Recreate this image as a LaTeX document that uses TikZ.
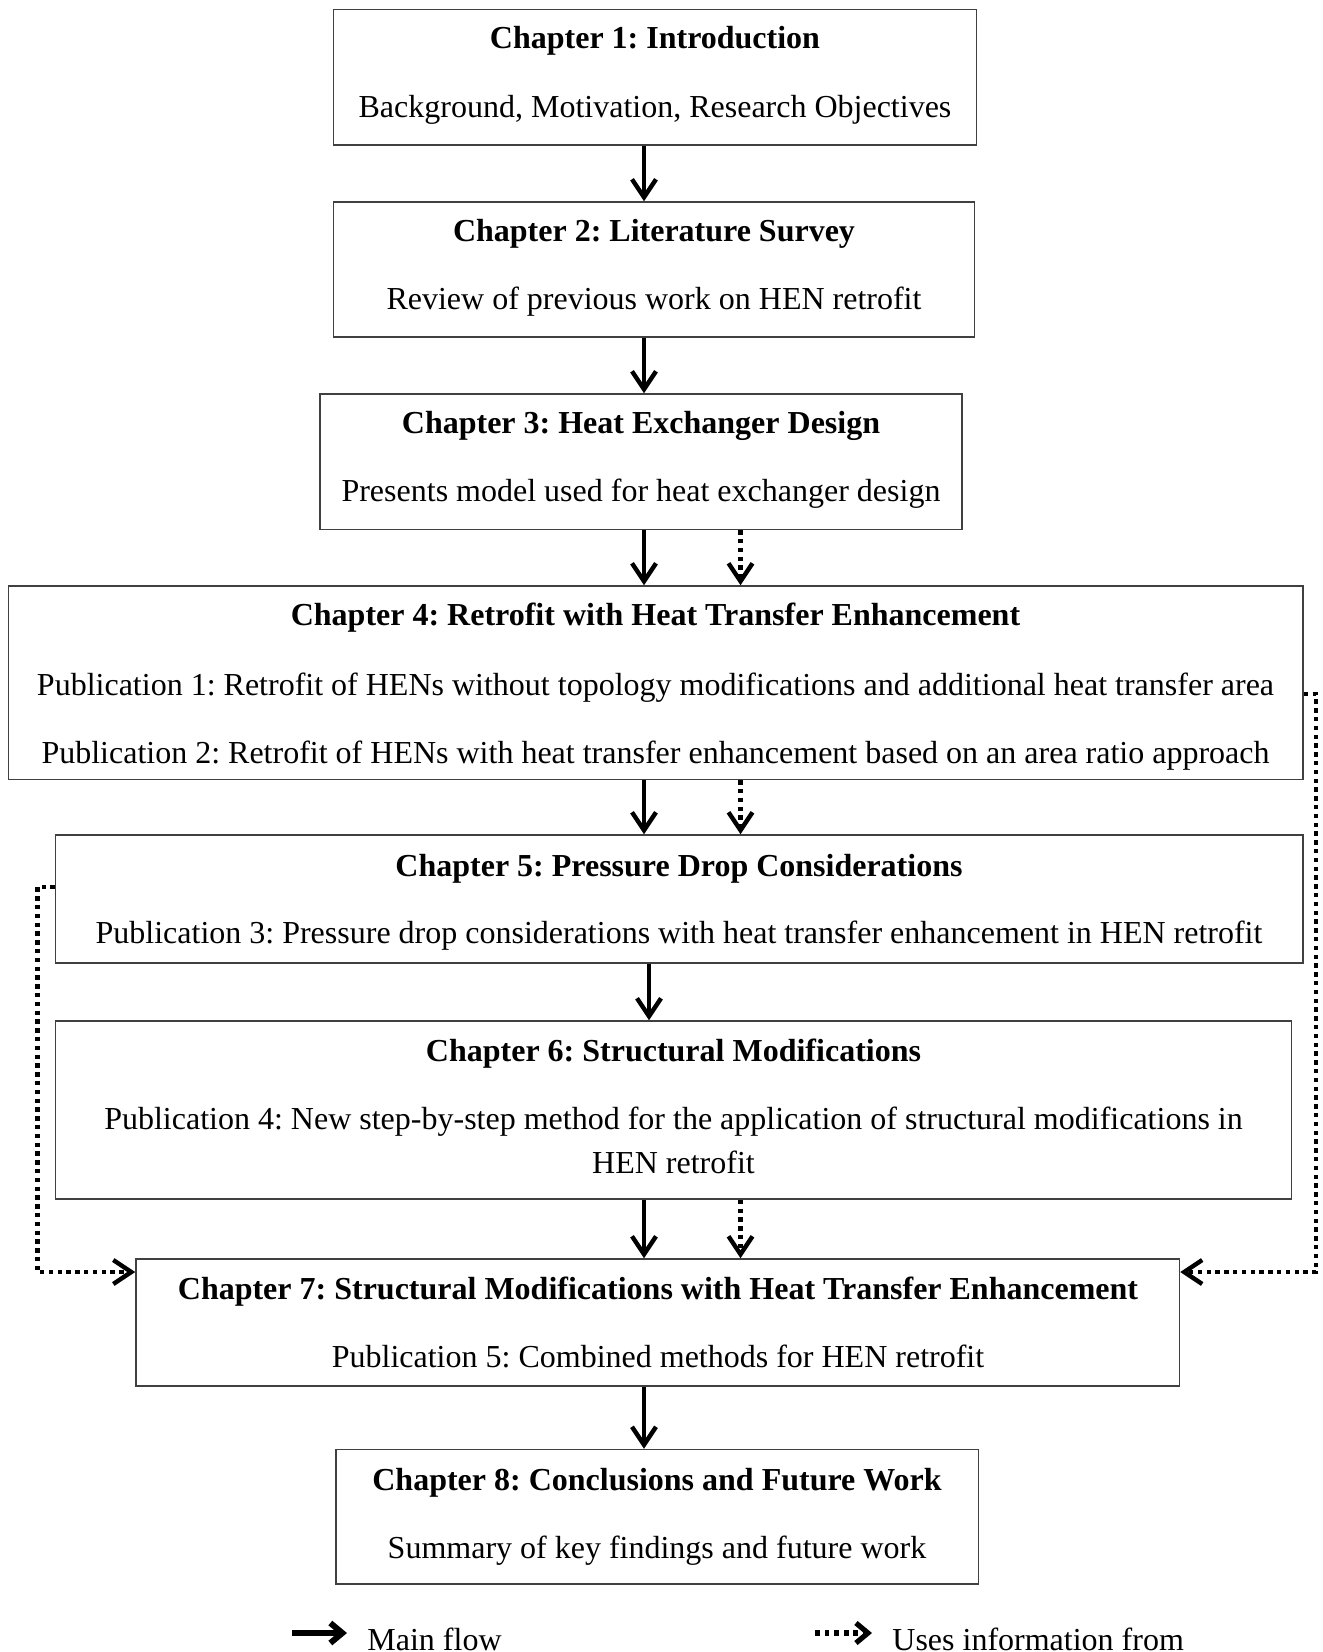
\documentclass[tikz,border=0pt]{standalone}
\usepackage{fontspec}
\setmainfont{Liberation Serif}
\usetikzlibrary{arrows.meta,fit}
\frenchspacing

\begin{document}
\begin{tikzpicture}[x=0.5pt,y=-0.5pt,
  box/.style={draw=black!75,line width=0.75pt,inner sep=0pt,fill=none},
  txt/.style={anchor=base,inner sep=0pt,font=\fontsize{16}{22}\selectfont},
  ttl/.style={txt,font=\fontsize{16}{22}\selectfont\bfseries},
  flow/.style={line width=2.2pt,-{Straight Barb[length=9pt,width=12pt]}},
  info/.style={line width=2.2pt,dash pattern=on 2.2pt off 2.2pt,
               -{Straight Barb[length=9pt,width=12pt]}},
  lflow/.style={line width=3pt,-{Straight Barb[length=6pt,width=10pt]}},
  linfo/.style={line width=2.6pt,dash pattern=on 2.4pt off 2.4pt,
               -{Straight Barb[length=6pt,width=10pt]}}
]
\useasboundingbox (0,0) rectangle (1322,1652);

% chapter boxes
\node[box,fit={(333.5,9.5) (976.5,145)}] (c1) {};
\node[box,fit={(333.5,202) (974.5,337)}] (c2) {};
\node[box,fit={(320,394) (962,529.5)}] (c3) {};
\node[box,fit={(8.5,586) (1303,779.5)}] (c4) {};
\node[box,fit={(55.5,835) (1303,963)}] (c5) {};
\node[box,fit={(55.5,1021) (1291.5,1199)}] (c6) {};
\node[box,fit={(136,1259) (1179.5,1386)}] (c7) {};
\node[box,fit={(336,1449.5) (978.5,1584)}] (c8) {};

% box contents
\node[ttl] (t1) at (655,49) {Chapter 1: Introduction};
\node[txt] (s1) at (655,117.5) {Background, Motivation, Research Objectives};

\node[ttl] (t2) at (654,242) {Chapter 2: Literature Survey};
\node[txt] (s2) at (654,310) {Review of previous work on HEN retrofit};

\node[ttl] (t3) at (641,433.5) {Chapter 3: Heat Exchanger Design};
\node[txt] (s3) at (641,502) {Presents model used for heat exchanger design};

\node[ttl] (t4) at (655.5,625) {Chapter 4: Retrofit with Heat Transfer Enhancement};
\node[txt] (s4a) at (655.5,695) {Publication 1: Retrofit of HENs without topology modifications and additional heat transfer area};
\node[txt] (s4b) at (655.5,763) {Publication 2: Retrofit of HENs with heat transfer enhancement based on an area ratio approach};

\node[ttl] (t5) at (679,876) {Chapter 5: Pressure Drop Considerations};
\node[txt] (s5) at (679,943) {Publication 3: Pressure drop considerations with heat transfer enhancement in HEN retrofit};

\node[ttl] (t6) at (673.5,1061) {Chapter 6: Structural Modifications};
\node[txt] (s6a) at (673.5,1129) {Publication 4: New step-by-step method for the application of structural modifications in};
\node[txt] (s6b) at (673.5,1173) {HEN retrofit};

\node[ttl] (t7) at (658,1299) {Chapter 7: Structural Modifications with Heat Transfer Enhancement};
\node[txt] (s7) at (658,1367) {Publication 5: Combined methods for HEN retrofit};

\node[ttl] (t8) at (657,1490) {Chapter 8: Conclusions and Future Work};
\node[txt] (s8) at (657,1558.5) {Summary of key findings and future work};

% connector columns and corners
\coordinate (xm) at (644,0);
\coordinate (xn) at (649,0);
\coordinate (xd) at (740.5,0);
\coordinate (rt) at (1316,694);
\coordinate (rb) at (1316,1272);
\coordinate (lt) at (37.5,887);
\coordinate (lb) at (37.5,1272);

% main flow
\draw[flow] (c1.south -| xm) -- (c2.north -| xm);
\draw[flow] (c2.south -| xm) -- (c3.north -| xm);
\draw[flow] (c3.south -| xm) -- (c4.north -| xm);
\draw[flow] (c4.south -| xm) -- (c5.north -| xm);
\draw[flow] (c5.south -| xn) -- (c6.north -| xn);
\draw[flow] (c6.south -| xm) -- (c7.north -| xm);
\draw[flow] (c7.south -| xm) -- (c8.north -| xm);

% information links
\draw[info] (c3.south -| xd) -- (c4.north -| xd);
\draw[info] (c4.south -| xd) -- (c5.north -| xd);
\draw[info] (c6.south -| xd) -- (c7.north -| xd);
\draw[info] (c4.east |- rt) -- (rt) -- (rb) -- (c7.east |- rb);
\draw[info] (c5.west |- lt) -- (lt) -- (lb) -- (c7.west |- lb);

% legend
\coordinate (la) at (292,1633);
\coordinate (lbb) at (347,1633);
\coordinate (lc) at (815,1633);
\coordinate (ld) at (872,1633);
\draw[lflow] (la) -- (lbb);
\draw[linfo] (lc) -- (ld);
\node[txt,anchor=base west] (lmain) at (367,1650) {Main flow};
\node[txt,anchor=base west] (linf) at (892,1650) {Uses information from};
\end{tikzpicture}
\end{document}
